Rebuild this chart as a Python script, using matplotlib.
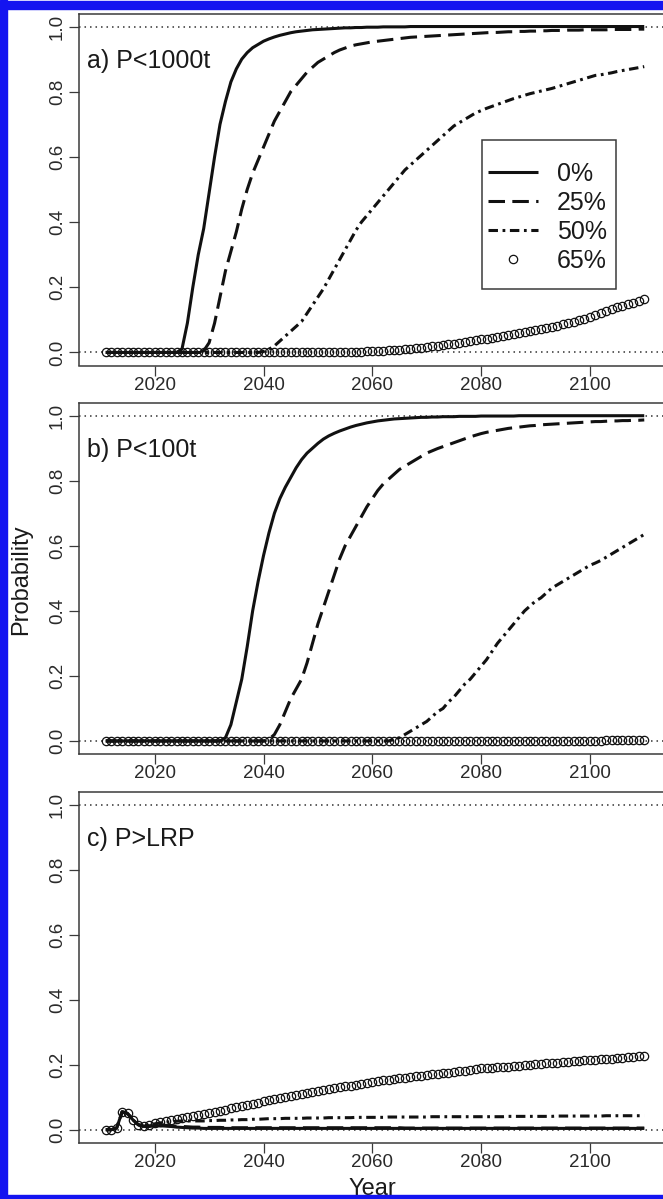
import matplotlib
matplotlib.use('Agg')
import matplotlib.pyplot as plt
from matplotlib.patches import Rectangle

plt.rcParams['font.family'] = ['Liberation Sans', 'DejaVu Sans']

years = list(range(2011, 2111))
legend_labels = ['0%', '25%', '50%', '65%']
panel_titles = ['a) P<1000t', 'b) P<100t', 'c) P>LRP']
x_ticks = [2020, 2040, 2060, 2080, 2100]
y_ticks = [0.0, 0.2, 0.4, 0.6, 0.8, 1.0]
y_tick_labels = ['0.0', '0.2', '0.4', '0.6', '0.8', '1.0']

# ---- panel a) P<1000t ----
a_0 = [0, 0, 0, 0, 0, 0, 0, 0, 0, 0,
       0, 0, 0, 0, 0.01, 0.09, 0.20, 0.30, 0.38, 0.49,
       0.60, 0.70, 0.77, 0.83, 0.87, 0.90, 0.92, 0.935, 0.945, 0.955,
       0.962, 0.968, 0.973, 0.977, 0.981, 0.984, 0.986, 0.988, 0.990, 0.991,
       0.992, 0.993, 0.994, 0.995, 0.996, 0.996, 0.997, 0.997, 0.998, 0.998,
       0.998, 0.999, 0.999, 0.999, 0.999, 0.999, 1, 1, 1, 1,
       1, 1, 1, 1, 1, 1, 1, 1, 1, 1,
       1, 1, 1, 1, 1, 1, 1, 1, 1, 1,
       1, 1, 1, 1, 1, 1, 1, 1, 1, 1,
       1, 1, 1, 1, 1, 1, 1, 1, 1, 1]
a_25 = [0, 0, 0, 0, 0, 0, 0, 0, 0, 0,
        0, 0, 0, 0, 0, 0, 0, 0, 0.005, 0.03,
        0.09, 0.17, 0.25, 0.31, 0.37, 0.44, 0.50, 0.55, 0.59, 0.63,
        0.67, 0.71, 0.74, 0.77, 0.80, 0.82, 0.84, 0.86, 0.875, 0.89,
        0.90, 0.91, 0.92, 0.928, 0.934, 0.94, 0.944, 0.947, 0.95, 0.953,
        0.955, 0.957, 0.959, 0.961, 0.963, 0.965, 0.967, 0.968, 0.969, 0.970,
        0.971, 0.972, 0.973, 0.974, 0.975, 0.976, 0.977, 0.978, 0.979, 0.980,
        0.981, 0.982, 0.982, 0.983, 0.984, 0.984, 0.985, 0.985, 0.986, 0.986,
        0.987, 0.987, 0.988, 0.988, 0.988, 0.989, 0.989, 0.989, 0.990, 0.990,
        0.990, 0.990, 0.990, 0.991, 0.991, 0.991, 0.991, 0.991, 0.992, 0.992]
a_50 = [0, 0, 0, 0, 0, 0, 0, 0, 0, 0,
        0, 0, 0, 0, 0, 0, 0, 0, 0, 0,
        0, 0, 0, 0, 0, 0, 0, 0, 0, 0.003,
        0.01, 0.02, 0.035, 0.05, 0.065, 0.08, 0.095, 0.12, 0.145, 0.17,
        0.195, 0.225, 0.255, 0.285, 0.315, 0.345, 0.375, 0.40, 0.42, 0.44,
        0.46, 0.48, 0.50, 0.52, 0.54, 0.56, 0.575, 0.59, 0.605, 0.62,
        0.635, 0.65, 0.665, 0.68, 0.695, 0.705, 0.715, 0.725, 0.735, 0.742,
        0.749, 0.755, 0.761, 0.767, 0.773, 0.779, 0.784, 0.789, 0.794, 0.798,
        0.802, 0.806, 0.81, 0.815, 0.82, 0.825, 0.83, 0.835, 0.84, 0.845,
        0.85, 0.852, 0.855, 0.858, 0.862, 0.865, 0.868, 0.871, 0.874, 0.877]
a_65 = [0, 0, 0, 0, 0, 0, 0, 0, 0, 0,
        0, 0, 0, 0, 0, 0, 0, 0, 0, 0,
        0, 0, 0, 0, 0, 0, 0, 0, 0, 0,
        0, 0, 0, 0, 0, 0, 0, 0, 0, 0,
        0, 0, 0, 0, 0, 0, 0.001, 0.002, 0.003, 0.004,
        0.005, 0.006, 0.007, 0.008, 0.009, 0.010, 0.012, 0.013, 0.015, 0.017,
        0.019, 0.021, 0.023, 0.025, 0.027, 0.030, 0.032, 0.035, 0.037, 0.040,
        0.042, 0.045, 0.047, 0.050, 0.053, 0.056, 0.059, 0.062, 0.065, 0.068,
        0.071, 0.074, 0.078, 0.082, 0.086, 0.090, 0.094, 0.099, 0.104, 0.110,
        0.116, 0.121, 0.127, 0.132, 0.138, 0.143, 0.148, 0.153, 0.158, 0.163]

# ---- panel b) P<100t ----
b_0 = [0, 0, 0, 0, 0, 0, 0, 0, 0, 0,
       0, 0, 0, 0, 0, 0, 0, 0, 0, 0,
       0, 0, 0.01, 0.05, 0.12, 0.19, 0.29, 0.40, 0.49, 0.57,
       0.64, 0.70, 0.745, 0.78, 0.81, 0.84, 0.865, 0.885, 0.90, 0.915,
       0.928, 0.938, 0.946, 0.953, 0.959, 0.965, 0.97, 0.974, 0.978, 0.981,
       0.984, 0.986, 0.988, 0.99, 0.991, 0.992, 0.993, 0.994, 0.995, 0.995,
       0.996, 0.996, 0.997, 0.997, 0.997, 0.998, 0.998, 0.998, 0.998, 0.999,
       0.999, 0.999, 0.999, 0.999, 0.999, 0.999, 1, 1, 1, 1,
       1, 1, 1, 1, 1, 1, 1, 1, 1, 1,
       1, 1, 1, 1, 1, 1, 1, 1, 1, 1]
b_25 = [0, 0, 0, 0, 0, 0, 0, 0, 0, 0,
        0, 0, 0, 0, 0, 0, 0, 0, 0, 0,
        0, 0, 0, 0, 0, 0, 0, 0, 0, 0,
        0.005, 0.02, 0.05, 0.09, 0.13, 0.16, 0.19, 0.24, 0.30, 0.36,
        0.41, 0.46, 0.51, 0.56, 0.60, 0.63, 0.66, 0.69, 0.72, 0.745,
        0.77, 0.79, 0.805, 0.82, 0.835, 0.845, 0.855, 0.865, 0.875, 0.885,
        0.892, 0.899, 0.905, 0.911, 0.917, 0.923, 0.929, 0.935, 0.940, 0.945,
        0.949, 0.952, 0.955, 0.958, 0.961, 0.963, 0.965, 0.967, 0.969, 0.970,
        0.972, 0.973, 0.974, 0.975, 0.976, 0.977, 0.978, 0.979, 0.980, 0.981,
        0.982, 0.982, 0.983, 0.984, 0.984, 0.985, 0.985, 0.986, 0.986, 0.987]
b_50 = [0, 0, 0, 0, 0, 0, 0, 0, 0, 0,
        0, 0, 0, 0, 0, 0, 0, 0, 0, 0,
        0, 0, 0, 0, 0, 0, 0, 0, 0, 0,
        0, 0, 0, 0, 0, 0, 0, 0, 0, 0,
        0, 0, 0, 0, 0, 0, 0, 0, 0, 0,
        0, 0, 0, 0.005, 0.01, 0.02, 0.03, 0.04, 0.05, 0.06,
        0.075, 0.09, 0.10, 0.12, 0.135, 0.155, 0.175, 0.19, 0.21, 0.23,
        0.25, 0.275, 0.30, 0.32, 0.34, 0.36, 0.38, 0.40, 0.415, 0.43,
        0.44, 0.455, 0.47, 0.48, 0.49, 0.50, 0.51, 0.52, 0.53, 0.54,
        0.547, 0.555, 0.565, 0.575, 0.585, 0.595, 0.605, 0.615, 0.625, 0.635]
b_65 = [0, 0, 0, 0, 0, 0, 0, 0, 0, 0,
        0, 0, 0, 0, 0, 0, 0, 0, 0, 0,
        0, 0, 0, 0, 0, 0, 0, 0, 0, 0,
        0, 0, 0, 0, 0, 0, 0, 0, 0, 0,
        0, 0, 0, 0, 0, 0, 0, 0, 0, 0,
        0, 0, 0, 0, 0, 0, 0, 0, 0, 0,
        0, 0, 0, 0, 0, 0, 0, 0, 0, 0,
        0, 0, 0, 0, 0, 0, 0, 0, 0, 0,
        0, 0, 0, 0, 0, 0, 0, 0, 0, 0,
        0.001, 0.001, 0.002, 0.002, 0.002, 0.003, 0.003, 0.003, 0.004, 0.004]

# ---- panel c) P>LRP ----
c_0 = [0, 0, 0.005, 0.055, 0.05, 0.03, 0.015, 0.01, 0.01, 0.012,
       0.012, 0.011, 0.01, 0.008, 0.007, 0.006, 0.005, 0.005, 0.004, 0.004,
       0.004, 0.004, 0.004, 0.004, 0.004, 0.004, 0.004, 0.004, 0.004, 0.004,
       0.004, 0.004, 0.004, 0.004, 0.004, 0.004, 0.004, 0.004, 0.004, 0.004,
       0.004, 0.004, 0.004, 0.004, 0.004, 0.004, 0.004, 0.004, 0.004, 0.004,
       0.004, 0.004, 0.004, 0.004, 0.004, 0.004, 0.004, 0.004, 0.004, 0.004,
       0.004, 0.004, 0.004, 0.004, 0.004, 0.004, 0.004, 0.004, 0.004, 0.004,
       0.004, 0.004, 0.004, 0.004, 0.004, 0.004, 0.004, 0.004, 0.004, 0.004,
       0.004, 0.004, 0.004, 0.004, 0.004, 0.004, 0.004, 0.004, 0.004, 0.004,
       0.004, 0.004, 0.004, 0.004, 0.004, 0.004, 0.004, 0.004, 0.004, 0.004]
c_25 = [0, 0, 0.005, 0.055, 0.05, 0.03, 0.015, 0.011, 0.012, 0.014,
        0.014, 0.013, 0.012, 0.011, 0.010, 0.009, 0.008, 0.008, 0.007, 0.007,
        0.007, 0.007, 0.006, 0.006, 0.006, 0.006, 0.006, 0.006, 0.006, 0.006,
        0.006, 0.006, 0.006, 0.006, 0.006, 0.006, 0.006, 0.006, 0.006, 0.006,
        0.006, 0.006, 0.006, 0.006, 0.006, 0.006, 0.006, 0.006, 0.006, 0.006,
        0.006, 0.006, 0.006, 0.006, 0.006, 0.005, 0.005, 0.005, 0.005, 0.005,
        0.005, 0.005, 0.005, 0.005, 0.005, 0.005, 0.005, 0.005, 0.005, 0.005,
        0.005, 0.005, 0.005, 0.005, 0.005, 0.005, 0.005, 0.005, 0.005, 0.005,
        0.005, 0.005, 0.005, 0.005, 0.005, 0.005, 0.005, 0.005, 0.005, 0.005,
        0.005, 0.005, 0.005, 0.005, 0.005, 0.005, 0.005, 0.005, 0.005, 0.005]
c_50 = [0, 0, 0.005, 0.055, 0.05, 0.03, 0.015, 0.012, 0.015, 0.018,
        0.021, 0.023, 0.025, 0.026, 0.027, 0.027, 0.027, 0.027, 0.027, 0.028,
        0.028, 0.029, 0.029, 0.030, 0.030, 0.031, 0.031, 0.032, 0.032, 0.033,
        0.034, 0.034, 0.034, 0.035, 0.035, 0.035, 0.035, 0.036, 0.036, 0.036,
        0.036, 0.037, 0.037, 0.037, 0.037, 0.037, 0.038, 0.038, 0.038, 0.038,
        0.038, 0.038, 0.039, 0.039, 0.039, 0.039, 0.039, 0.039, 0.039, 0.039,
        0.040, 0.040, 0.040, 0.040, 0.040, 0.040, 0.040, 0.040, 0.040, 0.040,
        0.040, 0.040, 0.040, 0.040, 0.041, 0.041, 0.041, 0.041, 0.041, 0.041,
        0.041, 0.041, 0.041, 0.042, 0.042, 0.042, 0.042, 0.042, 0.042, 0.042,
        0.042, 0.042, 0.043, 0.043, 0.043, 0.043, 0.043, 0.043, 0.043, 0.043]
c_65 = [0, 0, 0.005, 0.055, 0.05, 0.03, 0.015, 0.012, 0.015, 0.02,
        0.023, 0.026, 0.029, 0.032, 0.035, 0.038, 0.041, 0.044, 0.047, 0.05,
        0.054, 0.058, 0.062, 0.066, 0.07, 0.073, 0.076, 0.079, 0.083, 0.087,
        0.091, 0.094, 0.097, 0.1, 0.103, 0.106, 0.109, 0.112, 0.115, 0.118,
        0.121, 0.124, 0.127, 0.13, 0.133, 0.136, 0.139, 0.142, 0.145, 0.148,
        0.15, 0.152, 0.154, 0.156, 0.158, 0.16, 0.162, 0.164, 0.166, 0.168,
        0.17, 0.172, 0.174, 0.176, 0.178, 0.18, 0.182, 0.184, 0.186, 0.189,
        0.19, 0.191, 0.192, 0.193, 0.194, 0.196, 0.197, 0.199, 0.2, 0.202,
        0.203, 0.204, 0.205, 0.206, 0.207, 0.209, 0.21, 0.211, 0.213, 0.215,
        0.216, 0.217, 0.218, 0.219, 0.22, 0.221, 0.223, 0.224, 0.226, 0.228]

panel_data = [(a_0, a_25, a_50, a_65), (b_0, b_25, b_50, b_65), (c_0, c_25, c_50, c_65)]

W, H = 663, 1199
fig = plt.figure(figsize=(W / 100, H / 100), dpi=100)
fig.patch.set_facecolor('white')

AX_LEFT, AX_RIGHT = 78.6, 666.0
panel_px = [(13.5, 365.5), (402.7, 754.0), (791.7, 1142.7)]
INK = '#111111'
FRAME = '#3a3a3a'
LW = 2.2

axes = []
for (top, bottom), title, series in zip(panel_px, panel_titles, panel_data):
    ax = fig.add_axes([AX_LEFT / W, 1 - bottom / H, (AX_RIGHT - AX_LEFT) / W, (bottom - top) / H])
    axes.append(ax)
    ax.axhline(0, color='#333333', lw=1.1, ls=(0, (1, 2.6)), zorder=1)
    ax.axhline(1, color='#333333', lw=1.1, ls=(0, (1, 2.6)), zorder=1)
    s0, s25, s50, s65 = series
    ax.plot(years, s0, color=INK, lw=LW, solid_capstyle='butt', solid_joinstyle='round',
            label=legend_labels[0], zorder=3)
    ax.plot(years, s25, color=INK, lw=LW, dashes=(5.4, 2.4), dash_capstyle='butt',
            label=legend_labels[1], zorder=3)
    ax.plot(years, s50, color=INK, lw=LW, dashes=(3.1, 1.5, 0.9, 1.5), dash_capstyle='butt',
            label=legend_labels[2], zorder=3)
    ax.plot(years, s65, ls='none', marker='o', ms=6.0, mfc='none', mec=INK, mew=0.9,
            label=legend_labels[3], zorder=4)
    ax.set_xlim(2006, 2114)
    ax.set_ylim(-0.04, 1.04)
    ax.set_xticks(x_ticks)
    ax.set_xticklabels([str(t) for t in x_ticks])
    ax.set_yticks(y_ticks)
    ax.set_yticklabels(y_tick_labels, rotation=90, va='center')
    ax.tick_params(axis='both', direction='out', length=7.2, width=0.9, color=FRAME,
                   labelsize=13.5, labelcolor='#2a2a2a')
    ax.tick_params(axis='x', pad=1.0)
    ax.tick_params(axis='y', pad=2.0)
    for sp in ax.spines.values():
        sp.set_color(FRAME)
        sp.set_linewidth(1.1)
    ax.text(0.015, 0.866, title, transform=ax.transAxes, fontsize=18, color='#1a1a1a',
            ha='left', va='center')

# legend (entries without frame) plus a separate box like the R legend
ax0 = axes[0]
leg = ax0.legend(loc='upper left', bbox_to_anchor=(0.697, 0.578), fontsize=18,
                 frameon=False, handlelength=2.0, handletextpad=0.75,
                 labelspacing=0.2, borderpad=0.0, borderaxespad=0.0)
for t in leg.get_texts():
    t.set_color('#1a1a1a')
ax0.add_patch(Rectangle((0.687, 0.217), 0.228, 0.424, transform=ax0.transAxes,
                        fill=False, edgecolor=FRAME, lw=1.1, zorder=5))

fig.text(21 / W, 1 - 580 / H, 'Probability', rotation=90, ha='center', va='center',
         fontsize=17, color='#1a1a1a')
fig.text(372 / W, 1 - 1178 / H, 'Year', ha='center', va='top', fontsize=17, color='#1a1a1a')

# blue frame of the source image
blue = '#1414f0'
fig.patches.append(Rectangle((0, 0), 7 / W, 1, transform=fig.transFigure, color=blue, zorder=10))
fig.patches.append(Rectangle((0, 1 - 9 / H), 1, 8 / H, transform=fig.transFigure, color=blue, zorder=10))
fig.patches.append(Rectangle((0, 0), 1, 4 / H, transform=fig.transFigure, color=blue, zorder=10))

fig.savefig('out.png', dpi=100)
